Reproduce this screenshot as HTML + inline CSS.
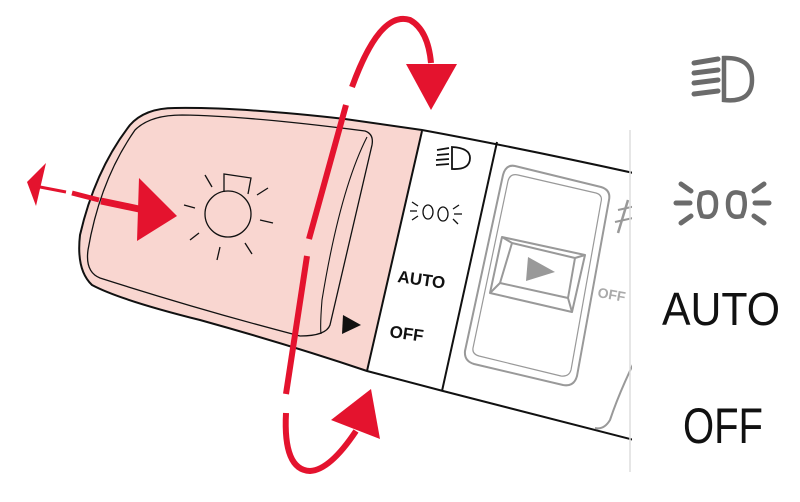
<!DOCTYPE html>
<html><head><meta charset="utf-8"><style>
html,body{margin:0;padding:0;background:#fff;width:800px;height:502px;overflow:hidden}
svg{display:block}
</style></head><body>
<svg width="800" height="502" viewBox="0 0 800 502" xmlns="http://www.w3.org/2000/svg">
<path d="M422,130 L345,119 Q240,107 175,108 Q145,108 130,125 Q95,170 80,235 Q76,270 92,285 Q120,300 200,320 Q290,345 367,371 Z" fill="#f9d6d0"/>
<path d="M638,174 Q520,148 422,130 L345,119 Q240,107 175,108 Q145,108 130,125 Q95,170 80,235 Q76,270 92,285 Q120,300 200,320 Q290,345 367,371 L443,391 L638,441" fill="none" stroke="#111" stroke-width="2"/>
<line x1="422" y1="131" x2="367" y2="371" stroke="#111" stroke-width="2"/>
<line x1="497" y1="142" x2="442" y2="391" stroke="#111" stroke-width="2"/>
<path d="M182,115 Q250,116 365,131 Q374,134 372,145 L330,325 Q326,336 300,336 Q200,310 100,278 Q85,272 88,250 Q100,180 135,130 Q150,115 182,115 Z" fill="none" stroke="#111" stroke-width="1.3"/>
<path d="M367,137 Q340,190 322,300 Q320,325 321,334" fill="none" stroke="#111" stroke-width="1.1"/>
<g stroke="#111" stroke-width="1.3" fill="none">
<circle cx="228" cy="214" r="23"/>
<path d="M224,192 L224,174 L251,178 L248,194"/>
<line x1="205" y1="175" x2="212" y2="187"/>
<line x1="257" y1="195" x2="268" y2="188"/>
<line x1="184" y1="205" x2="195" y2="208"/>
<line x1="260" y1="220" x2="273" y2="223"/>
<line x1="190" y1="240" x2="199" y2="233"/>
<line x1="220" y1="247" x2="217" y2="260"/>
<line x1="245" y1="243" x2="252" y2="254"/>
</g>
<polygon points="343,315 361,325 342,334" fill="#111"/>
<g font-family="Liberation Sans, sans-serif" font-weight="bold" fill="#111">
<text transform="translate(397,282) rotate(8)" font-size="17">AUTO</text>
<text transform="translate(389,337) rotate(8)" font-size="17">OFF</text>
</g>
<g stroke="#111" stroke-width="1.8" fill="none">
<path d="M452,147 Q470,148 470,158 Q470,170 452,169 Z"/>
<line x1="437" y1="150" x2="449" y2="148"/><line x1="437" y1="155" x2="449" y2="154"/>
<line x1="436" y1="160" x2="449" y2="159"/><line x1="436" y1="165" x2="449" y2="164"/>
</g>
<g stroke="#111" stroke-width="1.3" fill="none">
<ellipse cx="428" cy="212" rx="5" ry="7"/><ellipse cx="443" cy="214" rx="5" ry="7"/>
<line x1="412" y1="202" x2="418" y2="206"/><line x1="410" y1="211" x2="417" y2="211"/><line x1="412" y1="220" x2="418" y2="216"/>
<line x1="459" y1="205" x2="453" y2="209"/><line x1="462" y1="214" x2="454" y2="214"/><line x1="458" y1="224" x2="453" y2="219"/>
</g>
<g stroke="#999" stroke-width="2" fill="none" stroke-linejoin="round">
<path d="M515,166 L601,187 Q611,190 609,200 L577,376 Q574,387 563,385 L474,364 Q464,361 465,351 L503,175 Q506,164 515,166 Z"/>
<path d="M518,175 L596,193 Q603,195 601,202 L571,370 Q569,377 561,376 L479,356 Q472,354 473,348 L508,181 Q510,173 518,175 Z" stroke-width="1.2"/>
<path d="M502,237 L585,255 L572,312 L490,293 Z"/>
<path d="M512,243 L575,258 L568,298 L500,283 Z"/>
<line x1="502" y1="237" x2="512" y2="243"/><line x1="585" y1="255" x2="575" y2="258"/>
<line x1="572" y1="312" x2="568" y2="298"/><line x1="490" y1="293" x2="500" y2="283"/>
<path d="M640,350 Q620,390 610,420 Q604,430 595,428"/>
<line x1="628" y1="200" x2="618" y2="233" stroke-width="2.5"/>
<line x1="618" y1="210" x2="636" y2="206"/><line x1="615" y1="222" x2="633" y2="218"/>
</g>
<polygon points="528,257 555,272 526,281" fill="#999"/>
<text transform="translate(597,297) rotate(10)" font-family="Liberation Sans, sans-serif" font-weight="bold" font-size="14" fill="#aaa">OFF</text>
<line x1="630" y1="130" x2="630" y2="472" stroke="#ddd" stroke-width="1.5"/>
<rect x="632" y="0" width="168" height="502" fill="#fff"/>
<g stroke="#e4132e" fill="none" stroke-width="6">
<path d="M352,87 Q380,10 410,20 Q428,30 431,63"/>
<line x1="346" y1="105" x2="309" y2="239"/>
<line x1="307" y1="256" x2="286" y2="394"/>
<path d="M286,413 Q283,470 310,471 Q330,470 356,431"/>
</g>
<polygon points="406,64 457,64 431,110" fill="#e4132e"/>
<polygon points="331,420 371,389 380,439" fill="#e4132e"/>
<g stroke="#e4132e" fill="none">
<line x1="40" y1="187" x2="66" y2="192" stroke-width="3"/>
<line x1="72" y1="193" x2="99" y2="200" stroke-width="5"/>
<line x1="101" y1="201" x2="139" y2="209" stroke-width="7"/>
</g>
<polygon points="27,182 46,163 36,206" fill="#e4132e"/>
<polygon points="139,178 177,216 137,241" fill="#e4132e"/>
<g stroke="#6b6b6b" stroke-width="5" fill="none" stroke-linecap="round">
<path d="M724,58 Q752,57 752,80 Q752,103 724,100 Z" stroke-width="4.5"/>
<line x1="694" y1="63" x2="718" y2="59"/><line x1="694" y1="73" x2="718" y2="70"/>
<line x1="694" y1="83" x2="718" y2="80"/><line x1="694" y1="94" x2="718" y2="91"/>
<path d="M701,194 Q716,188 716,204 Q716,220 702,216 Q697,205 701,194 Z" stroke-width="4.5"/>
<path d="M743,194 Q728,188 728,204 Q728,220 742,216 Q747,205 743,194 Z" stroke-width="4.5"/>
<line x1="681" y1="184" x2="691" y2="191"/><line x1="676" y1="203" x2="690" y2="203"/><line x1="681" y1="223" x2="691" y2="216"/>
<line x1="764" y1="184" x2="754" y2="191"/><line x1="769" y1="203" x2="755" y2="203"/><line x1="764" y1="223" x2="754" y2="216"/>
</g>
<text x="662" y="325" font-family="Liberation Sans, sans-serif" font-size="46" fill="#111" textLength="118" lengthAdjust="spacingAndGlyphs">AUTO</text>
<text x="683" y="443" font-family="Liberation Sans, sans-serif" font-size="50" fill="#111" textLength="80" lengthAdjust="spacingAndGlyphs">OFF</text>
</svg>
</body></html>
